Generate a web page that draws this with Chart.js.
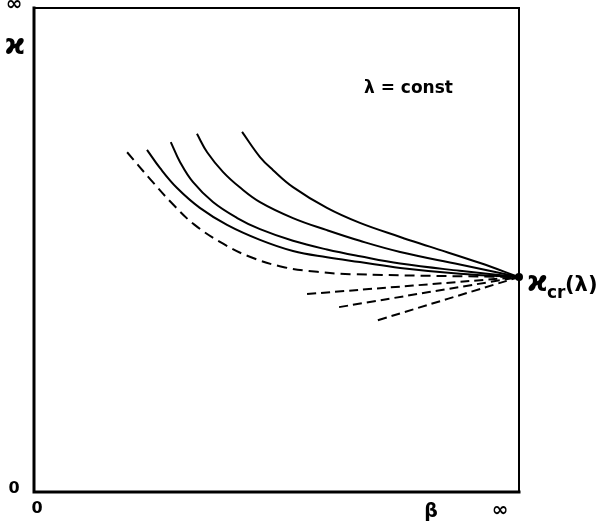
<!DOCTYPE html>
<html>
<head>
<meta charset="utf-8">
<script src="https://cdn.jsdelivr.net/npm/chart.js@4/dist/chart.umd.min.js"></script>
<style>
  html, body { margin: 0; padding: 0; background: #fff; }
  canvas { display: block; }
</style>
</head>
<body>
<canvas id="chart" width="597" height="527"></canvas>
<script>
// beta (x) and kappa (y) in axis units, 0..10 where 10 stands for infinity
const kappaCr = [10, 4.44];

const curve1 = [[4.29, 7.44], [4.66, 6.92], [4.93, 6.65], [5.34, 6.30], [6.04, 5.87], [6.72, 5.56], [7.55, 5.27], [8.16, 5.07], [9.20, 4.73], kappaCr];
const curve2 = [[3.36, 7.40], [3.57, 7.02], [3.90, 6.61], [4.25, 6.29], [4.66, 5.99], [5.34, 5.66], [6.04, 5.41], [6.72, 5.19], [7.55, 4.96], [8.78, 4.70], kappaCr];
const curve3 = [[2.82, 7.23], [3.01, 6.82], [3.28, 6.40], [3.69, 5.99], [4.19, 5.66], [4.66, 5.43], [5.34, 5.19], [6.04, 5.01], [6.72, 4.87], [7.55, 4.72], [8.78, 4.57], kappaCr];
const curve4 = [[2.33, 7.07], [2.60, 6.69], [2.95, 6.28], [3.42, 5.87], [3.98, 5.52], [4.66, 5.21], [5.34, 4.98], [6.04, 4.85], [6.72, 4.75], [7.55, 4.63], [8.78, 4.51], kappaCr];
const dashedCurve = [[1.92, 7.02], [2.39, 6.47], [2.85, 5.96], [3.30, 5.53], [3.90, 5.13], [4.45, 4.86], [5.13, 4.65], [5.84, 4.55], [6.52, 4.50], kappaCr];
const shortDash1 = [[5.63, 4.09], kappaCr];
const shortDash2 = [[6.29, 3.82], kappaCr];
const shortDash3 = [[7.09, 3.55], kappaCr];

const toPts = arr => arr.map(p => ({x: p[0], y: p[1]}));

const solid = (data) => ({
    data: toPts(data),
    showLine: true,
    borderColor: '#000',
    borderWidth: 2,
    pointRadius: 0,
    tension: 0.4,
    fill: false
});
const dashed = (data, dash) => Object.assign(solid(data), {borderDash: dash});

const FONT = '"DejaVu Sans", sans-serif';

// frame + labels
const decorations = {
    id: 'decorations',
    afterDatasetsDraw(chart) {
        const {ctx, chartArea: a} = chart;
        ctx.save();
        ctx.strokeStyle = '#000';
        ctx.lineCap = 'square';
        ctx.lineWidth = 3;
        ctx.beginPath();
        ctx.moveTo(a.left, a.top);
        ctx.lineTo(a.left, a.bottom);
        ctx.lineTo(a.right, a.bottom);
        ctx.stroke();
        ctx.lineWidth = 2;
        ctx.beginPath();
        ctx.moveTo(a.left, a.top);
        ctx.lineTo(a.right, a.top);
        ctx.lineTo(a.right, a.bottom);
        ctx.stroke();

        // critical point
        const px = chart.scales.x.getPixelForValue(kappaCr[0]);
        const py = chart.scales.y.getPixelForValue(kappaCr[1]);
        ctx.fillStyle = '#000';
        ctx.beginPath();
        ctx.arc(px, py, 4, 0, Math.PI * 2);
        ctx.fill();

        ctx.textBaseline = 'alphabetic';
        ctx.textAlign = 'center';
        ctx.font = 'bold 20px ' + FONT;
        ctx.fillText('∞', 14, 10);
        ctx.fillText('∞', 500, 516);
        ctx.font = 'bold 28px ' + FONT;
        ctx.fillText('ϰ', 15, 54);
        ctx.font = 'bold 16px ' + FONT;
        ctx.fillText('0', 14, 493);
        ctx.fillText('0', 37, 513);
        ctx.font = 'bold 19px ' + FONT;
        ctx.fillText('β', 431, 517);

        ctx.textAlign = 'left';
        ctx.font = 'bold 17px ' + FONT;
        ctx.fillText('λ = const', 364, 93);

        ctx.font = 'bold 28px ' + FONT;
        ctx.fillText('ϰ', 527, 291);
        ctx.font = 'bold 17px ' + FONT;
        ctx.fillText('cr', 547, 298);
        ctx.font = 'bold 21px ' + FONT;
        ctx.fillText('(λ)', 565, 291);
        ctx.restore();
    }
};

new Chart(document.getElementById('chart').getContext('2d'), {
    type: 'scatter',
    data: {
        datasets: [
            solid(curve1),
            solid(curve2),
            solid(curve3),
            solid(curve4),
            dashed(dashedCurve, [10, 6]),
            dashed(shortDash1, [9, 5]),
            dashed(shortDash2, [9, 5]),
            dashed(shortDash3, [9, 5])
        ]
    },
    options: {
        responsive: false,
        animation: false,
        layout: {padding: {left: 34, top: 8, right: 78, bottom: 35}},
        scales: {
            x: {type: 'linear', min: 0, max: 10, display: false},
            y: {type: 'linear', min: 0, max: 10, display: false}
        },
        plugins: {
            legend: {display: false},
            tooltip: {enabled: false}
        }
    },
    plugins: [decorations]
});
</script>
</body>
</html>
